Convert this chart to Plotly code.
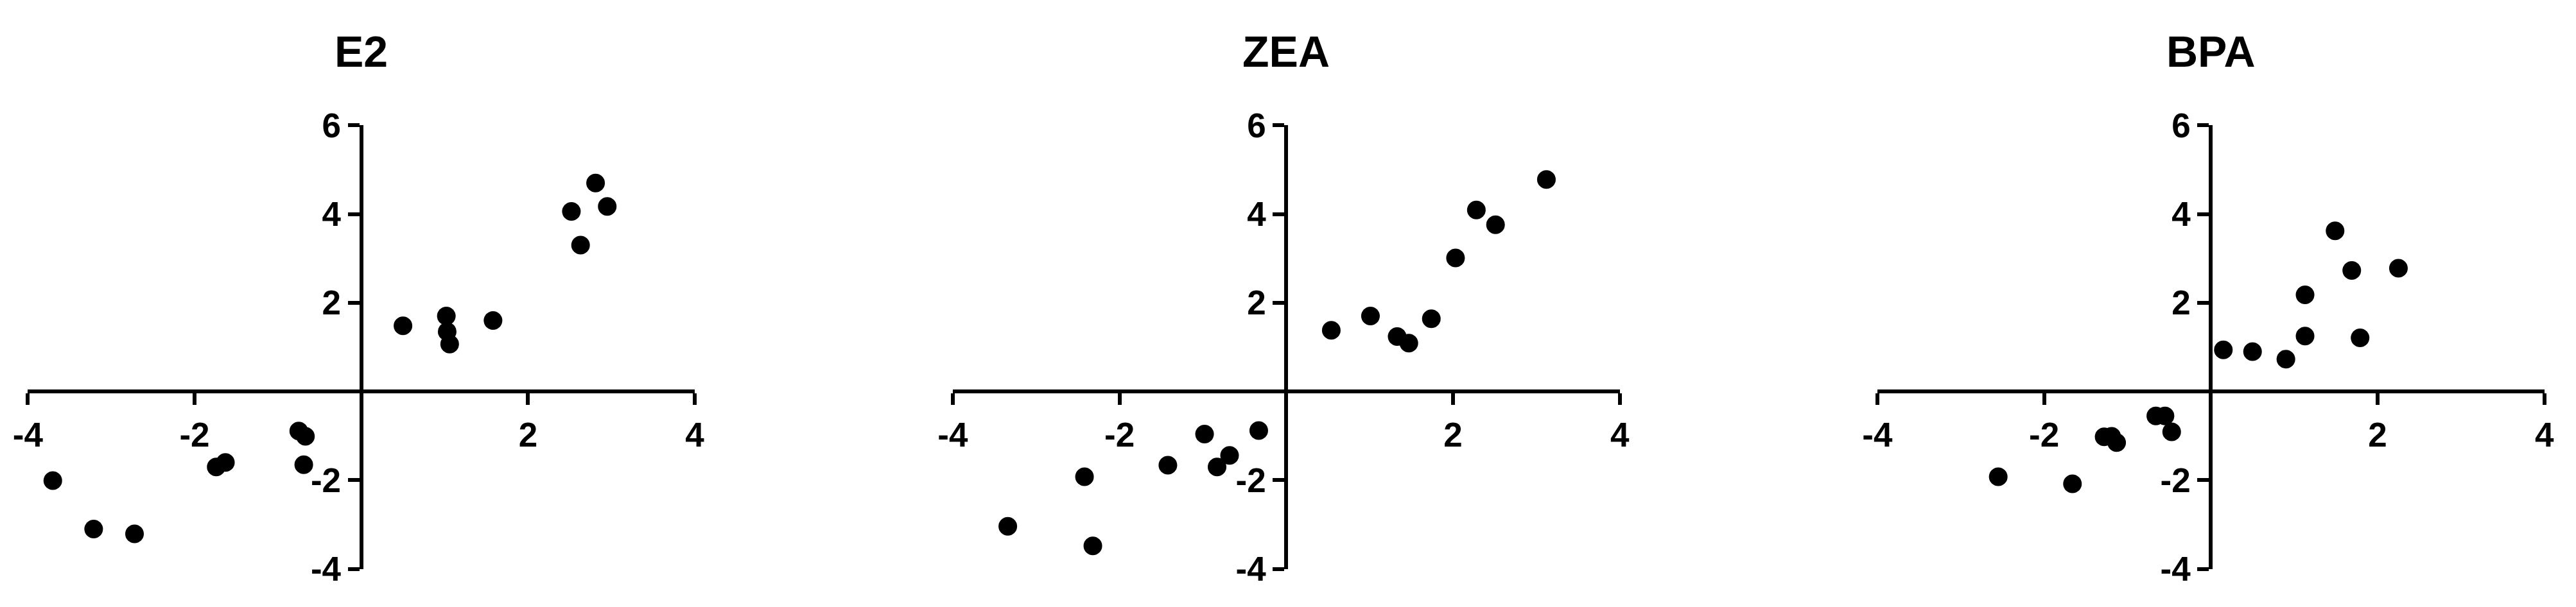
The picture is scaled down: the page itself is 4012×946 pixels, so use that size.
import plotly.graph_objects as go

# Panel titles
panel_titles = ["E2", "ZEA", "BPA"]

# Scatter values
e2_x = [-3.70, -3.21, -2.72, -1.74, -1.63, -0.75, -0.67, -0.69, 0.50, 1.02, 1.03, 1.06, 1.58, 2.52, 2.63, 2.81, 2.95]
e2_y = [-2.01, -3.10, -3.21, -1.70, -1.60, -0.89, -1.01, -1.65, 1.48, 1.70, 1.35, 1.07, 1.60, 4.06, 3.30, 4.70, 4.17]

zea_x = [-3.34, -2.42, -2.32, -1.42, -0.98, -0.83, -0.68, -0.33, 0.54, 1.01, 1.33, 1.47, 1.74, 2.03, 2.28, 2.51, 3.12]
zea_y = [-3.04, -1.92, -3.48, -1.66, -0.96, -1.70, -1.44, -0.88, 1.38, 1.70, 1.24, 1.09, 1.64, 3.01, 4.09, 3.76, 4.78]

bpa_x = [-2.55, -1.66, -1.28, -1.19, -1.13, -0.66, -0.55, -0.47, 0.15, 0.50, 0.90, 1.13, 1.13, 1.49, 1.69, 1.79, 2.25]
bpa_y = [-1.92, -2.08, -1.02, -1.01, -1.15, -0.55, -0.55, -0.91, 0.94, 0.90, 0.73, 1.25, 2.18, 3.62, 2.73, 1.21, 2.78]

# Axis ticks
x_range = [-4, 4]
y_range = [-4, 6]
x_tickvals = [-4, -2, 2, 4]
x_ticktext = ["-4", "-2", "2", "4"]
y_tickvals = [-4, -2, 2, 4, 6]
y_ticktext = ["-4", "-2", "2", "4", "6"]

W, H = 4012, 946
FONT = "Liberation Sans, Arial, Helvetica, sans-serif"

# pixel layout of the panels
centers = [562.7, 2003.3, 3443.3]
half_w = 519.4
y_top, y_bot = 195.3, 886.7

ydom = [1 - y_bot / H, 1 - y_top / H]
y_zero_frac = ydom[0] + (0 - y_range[0]) / (y_range[1] - y_range[0]) * (ydom[1] - ydom[0])

series = [(e2_x, e2_y), (zea_x, zea_y), (bpa_x, bpa_y)]

fig = go.Figure()
annotations = []

for i, ((xs, ys), title) in enumerate(zip(series, panel_titles)):
    n = "" if i == 0 else str(i + 1)
    xdom = [(centers[i] - half_w) / W, (centers[i] + half_w) / W]
    x_zero_frac = xdom[0] + (0 - x_range[0]) / (x_range[1] - x_range[0]) * (xdom[1] - xdom[0])

    fig.add_trace(go.Scatter(
        x=xs, y=ys, mode="markers",
        marker=dict(size=29, color="black", line=dict(width=0)),
        xaxis="x" + n, yaxis="y" + n, showlegend=False,
        cliponaxis=False,
    ))

    axis_common = dict(
        showgrid=False, zeroline=False, showline=True, linecolor="black", linewidth=6,
        ticks="outside", ticklen=18, tickwidth=6, tickcolor="black",
        tickfont=dict(family=FONT, size=53, color="black", weight="bold"),
        tickmode="array", fixedrange=True, automargin=False,
    )
    fig.layout["xaxis" + n] = dict(
        axis_common, domain=xdom, range=x_range, tickvals=x_tickvals, ticktext=x_ticktext,
        anchor="free", position=y_zero_frac, ticklabelstandoff=1,
    )
    fig.layout["yaxis" + n] = dict(
        axis_common, domain=ydom, range=y_range, tickvals=y_tickvals, ticktext=y_ticktext,
        anchor="free", position=x_zero_frac,
    )

    annotations.append(dict(
        text=title, x=x_zero_frac, y=1 - 80 / H, xref="paper", yref="paper",
        xanchor="center", yanchor="middle", showarrow=False,
        font=dict(family=FONT, size=68, color="black", weight="bold"),
    ))

fig.update_layout(
    template="none",
    width=W, height=H,
    margin=dict(l=0, r=0, t=0, b=0, autoexpand=False),
    paper_bgcolor="white", plot_bgcolor="white",
    annotations=annotations,
)

fig.write_html("out.html", config={"displayModeBar": False},
               post_script="document.body.style.margin='0';")
